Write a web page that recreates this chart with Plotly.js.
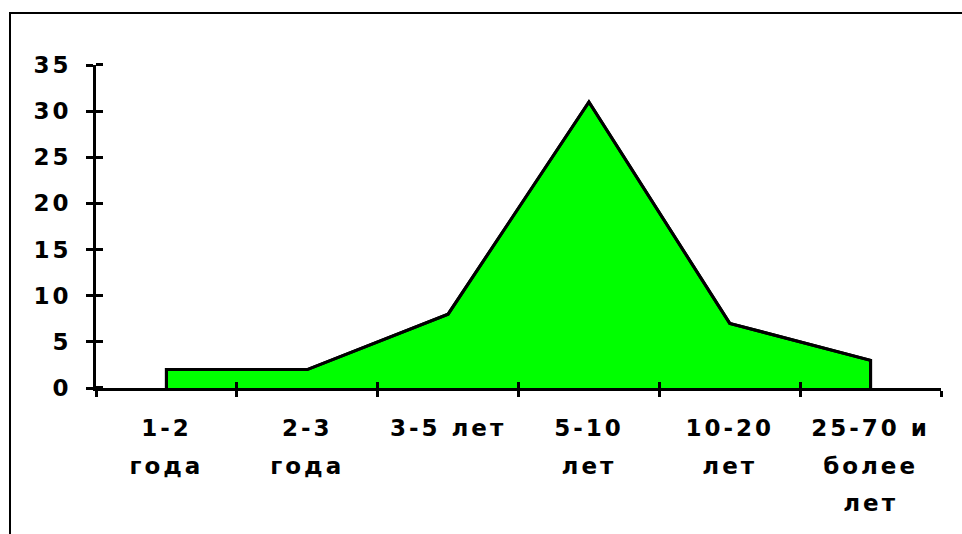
<!DOCTYPE html>
<html>
<head>
<meta charset="utf-8">
<script src="https://cdn.plot.ly/plotly-3.0.1.min.js"></script>
<style>
  html, body { margin: 0; padding: 0; background: #fff; }
  #wrap { position: relative; width: 962px; height: 534px; overflow: hidden; }
  #chart { position: absolute; left: 0; top: 0; width: 962px; height: 534px; }
  #frame { position: absolute; left: 9px; top: 12px; width: 2000px; height: 2000px;
           border-top: 2px solid #000; border-left: 2px solid #000; pointer-events: none; }
  .xtick text, .ytick text { letter-spacing: 3px; }
</style>
</head>
<body>
<div id="wrap">
  <div id="chart"></div>
  <div id="frame"></div>
</div>
<script>
// Data
const categories = ["1-2<br>года", "2-3<br>года", "3-5 лет", "5-10<br>лет", "10-20<br>лет", "25-70 и<br>более<br>лет"];
const values = [2, 2, 8, 31, 7, 3];
const yTicks = [0, 5, 10, 15, 20, 25, 30, 35];

const LABEL_PX = 23;
const wrapLabel = s => s.split("<br>").map(p => '<span style="font-size:' + LABEL_PX + 'px">' + p + '</span>').join("<br>");
const cats = categories.map(wrapLabel);

// closed polygon: drop to baseline at first and last category
const xs = [cats[0]].concat(cats, [cats[cats.length - 1]]);
const ys = [0].concat(values, [0]);

const traces = [
  {
    type: "scatter", x: xs, y: ys, mode: "lines", fill: "toself",
    fillcolor: "#00FF00", line: { color: "#000", width: 3 },
    hoverinfo: "skip", showlegend: false, xaxis: "x", yaxis: "y"
  },
  {
    // same outline again on the companion axes (carries the inner half of the crossing x ticks)
    type: "scatter", x: xs, y: ys, mode: "lines", line: { color: "#000", width: 3 },
    hoverinfo: "skip", showlegend: false, xaxis: "x2", yaxis: "y2"
  }
];

const tickFont = { family: "DejaVu Sans", size: LABEL_PX, color: "#000", weight: "bold" };

const layout = {
  width: 962, height: 534,
  margin: { l: 96, r: 21, t: 65, b: 146, autoexpand: false },
  paper_bgcolor: "rgba(0,0,0,0)", plot_bgcolor: "rgba(0,0,0,0)",
  showlegend: false,
  xaxis: {
    type: "category", range: [-0.5, 5.5], tickson: "boundaries",
    categoryorder: "array", categoryarray: cats, domain: [0, 1], anchor: "y",
    showline: true, linecolor: "#000", linewidth: 3,
    ticks: "outside", ticklen: 6, tickwidth: 3, tickcolor: "#000",
    showgrid: false, zeroline: false, automargin: false,
    tickfont: Object.assign({}, tickFont, { size: 29 }),
    ticklabelstandoff: 10, fixedrange: true
  },
  yaxis: {
    range: [0, 35], tickvals: yTicks, ticktext: yTicks.map(String), domain: [0, 1], anchor: "x",
    showline: true, linecolor: "#000", linewidth: 3,
    ticks: "outside", ticklen: 7, tickwidth: 3, tickcolor: "#000",
    minor: { tickmode: "array", tickvals: yTicks.map(v => v + 0.001), ticks: "inside", ticklen: 7, tickwidth: 3, tickcolor: "#000" },
    showgrid: false, zeroline: false, automargin: false,
    tickfont: tickFont, ticklabelstandoff: 10, fixedrange: true
  },
  xaxis2: {
    type: "category", range: [-0.5, 5.5], tickson: "boundaries",
    categoryorder: "array", categoryarray: cats, domain: [0, 1], anchor: "y2",
    showline: true, linecolor: "#000", linewidth: 3,
    ticks: "inside", ticklen: 6, tickwidth: 3, tickcolor: "#000",
    showticklabels: false, showgrid: false, zeroline: false, automargin: false, fixedrange: true
  },
  yaxis2: {
    range: [0, 35], domain: [0, 1], anchor: "x2", side: "right", visible: false,
    showgrid: false, zeroline: false, automargin: false, fixedrange: true
  }
};

Plotly.newPlot("chart", traces, layout, { staticPlot: true, displayModeBar: false });
</script>
</body>
</html>
